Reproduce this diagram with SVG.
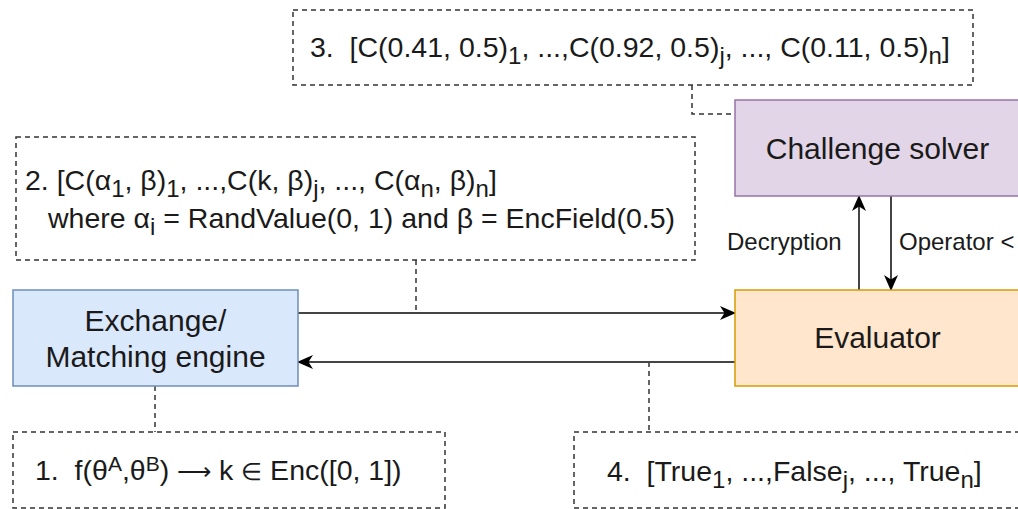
<svg xmlns="http://www.w3.org/2000/svg" width="1018" height="509" viewBox="0 0 1018 509">
<defs>
<style>
text{font-family:"Liberation Sans",Arial,sans-serif;fill:#1a1a1a;white-space:pre}
.node{font-size:30px}
.note{font-size:28.5px}
.lbl{font-size:24px}
.dbox{fill:#fff;stroke:#333;stroke-width:1.5;stroke-dasharray:5 4}
.dline{fill:none;stroke:#333;stroke-width:1.5;stroke-dasharray:5 4}
.edge{fill:none;stroke:#444;stroke-width:2}
.sub{font-size:24px}
.sup{font-size:21px}
.sym{font-size:24px}
</style>
<marker id="arr" markerUnits="userSpaceOnUse" markerWidth="16" markerHeight="14" refX="15" refY="7" orient="auto">
<path d="M0,0 L16,7 L0,14 L4.5,7 Z" fill="#000"/>
</marker>
</defs>
<rect width="1018" height="509" fill="#fff"/>

<g id="connectors">
<path class="dline" d="M692,85 V114 H735"/>
<path class="dline" d="M416,260 V313"/>
<path class="dline" d="M155,386 V432"/>
<path class="dline" d="M649,362 V432"/>
<path class="edge" d="M298,313 H735" marker-end="url(#arr)"/>
<path class="edge" d="M735,362 H298" marker-end="url(#arr)"/>
<path class="edge" d="M859,290 V196" marker-end="url(#arr)"/>
<path class="edge" d="M891,196 V290" marker-end="url(#arr)"/>
<text class="lbl" x="727" y="250">Decryption</text>
<text class="lbl" x="899" y="250">Operator &lt;</text>
</g>

<g id="note3">
<rect class="dbox" x="293" y="10" width="680" height="75"/>
<text class="note" x="310" y="57">3.&#160; [C(0.41, 0.5)<tspan class="sub" dy="7">1</tspan><tspan dy="-7">, ...,C(0.92, 0.5)</tspan><tspan class="sub" dy="7">j</tspan><tspan dy="-7">, ..., C(0.11, 0.5)</tspan><tspan class="sub" dy="7">n</tspan><tspan dy="-7">]</tspan></text>
</g>

<g id="note2">
<rect class="dbox" x="16" y="137" width="679" height="123"/>
<text class="note" x="25" y="190">2. [C(α<tspan class="sub" dy="7">1</tspan><tspan dy="-7">, β)</tspan><tspan class="sub" dy="7">1</tspan><tspan dy="-7">, ...,C(k, β)</tspan><tspan class="sub" dy="7">j</tspan><tspan dy="-7">, ..., C(α</tspan><tspan class="sub" dy="7">n</tspan><tspan dy="-7">, β)</tspan><tspan class="sub" dy="7">n</tspan><tspan dy="-7">]</tspan></text>
<text class="note" x="48" y="228">where α<tspan class="sub" dy="7">i</tspan><tspan dy="-7"> = RandValue(0, 1) and β = EncField(0.5)</tspan></text>
</g>

<g id="challenge-solver">
<rect x="735" y="100" width="285" height="96" fill="#e1d5e7" stroke="#9673a6" stroke-width="1.5"/>
<text class="node" x="877.5" y="159" text-anchor="middle">Challenge solver</text>
</g>

<g id="exchange">
<rect x="13" y="290" width="285" height="96" fill="#dae8fc" stroke="#6c8ebf" stroke-width="1.5"/>
<text class="node" x="155.5" y="331" text-anchor="middle">Exchange/</text>
<text class="node" x="155.5" y="367" text-anchor="middle">Matching engine</text>
</g>

<g id="evaluator">
<rect x="735" y="290" width="285" height="96" fill="#ffe6cc" stroke="#d79b00" stroke-width="1.5"/>
<text class="node" x="877.5" y="348" text-anchor="middle">Evaluator</text>
</g>

<g id="note1">
<rect class="dbox" x="13" y="432" width="432" height="76"/>
<text class="note" x="35" y="480">1.&#160; f(θ<tspan class="sup" dy="-9">A</tspan><tspan dy="9">,θ</tspan><tspan class="sup" dy="-9">B</tspan><tspan dy="9">) </tspan><tspan class="sym">⟶</tspan><tspan> k </tspan><tspan class="sym">∈</tspan><tspan> Enc([0, 1])</tspan></text>
</g>

<g id="note4">
<rect class="dbox" x="574" y="432" width="446" height="76"/>
<text class="note" x="607" y="481">4.&#160; [True<tspan class="sub" dy="7">1</tspan><tspan dy="-7">, ...,False</tspan><tspan class="sub" dy="7">j</tspan><tspan dy="-7">, ..., True</tspan><tspan class="sub" dy="7">n</tspan><tspan dy="-7">]</tspan></text>
</g>
</svg>
